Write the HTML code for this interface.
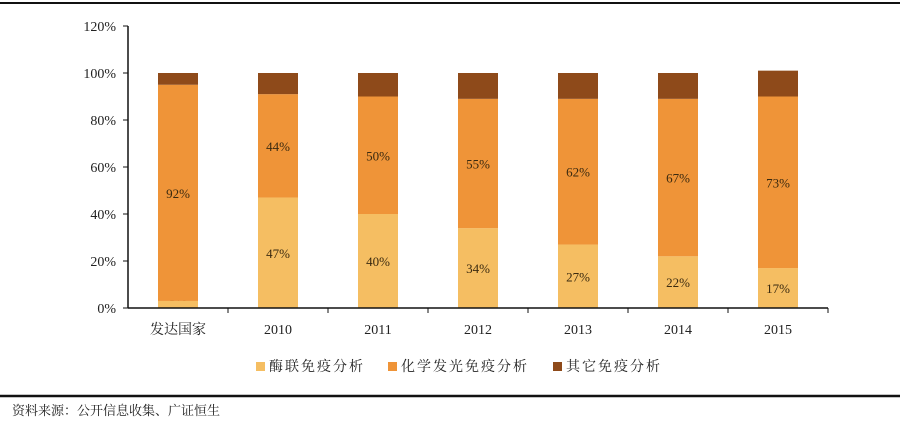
<!DOCTYPE html>
<html><head><meta charset="utf-8"><style>
body{margin:0;background:#fff;}
svg text{font-family:"Liberation Serif","Noto Serif CJK SC",serif;}
</style></head><body>
<svg width="900" height="423" viewBox="0 0 900 423">
<line x1="0" y1="3" x2="900" y2="3" stroke="#111" stroke-width="2"/>
<g id="plot"></g>
<line x1="0" y1="396" x2="900" y2="396" stroke="#111" stroke-width="2.5"/>
<text x="12" y="415" font-size="13" fill="#222">资料来源：公开信息收集、广证恒生</text>
</svg>
<script>
const categories=["发达国家","2010","2011","2012","2013","2014","2015"];
const elisa=[3,47,40,34,27,22,17];
const clia=[92,44,50,55,62,67,73];
const other=[5,9,10,11,11,11,11];
const yTicks=[0,20,40,60,80,100,120];
const seriesNames=["酶联免疫分析","化学发光免疫分析","其它免疫分析"];
const colors=["#F5BE62","#EF9438","#8E4A1A"];
const NS="http://www.w3.org/2000/svg";
const g=document.getElementById('plot');
const x0=128,x1=828,y0=308,yTop=26;
const y=v=>y0-(v/120)*(y0-yTop);
const band=(x1-x0)/categories.length;
const xc=i=>x0+band*(i+0.5);
function mk(t,a){const e=document.createElementNS(NS,t);for(const k in a)e.setAttribute(k,a[k]);g.appendChild(e);return e;}
yTicks.forEach(t=>{
 const l=mk('text',{x:x0-12,y:y(t)+5,'text-anchor':'end','font-size':'14',fill:'#222'});l.textContent=t+'%';
 
 
 const tk=mk('line',{x1:x0-5,x2:x0,y1:y(t),y2:y(t),stroke:'#111'});
 
 
});
const ya=mk('line',{x1:x0,x2:x0,y1:yTop,y2:y0,stroke:'#111','stroke-width':1.5});


const series=[elisa,clia,other];
categories.forEach((c,i)=>{
 let base=0;
 series.forEach((s,k)=>{
  const r=mk('rect',{x:xc(i)-20,width:40,y:y(base+s[i]),height:y(base)-y(base+s[i]),fill:colors[k]});
  
  
  if(k<2){
   let ly=y(base+s[i]/2)+5;
   if(i===0&&k===0) ly=y0-7;
   const t=mk('text',{x:xc(i),y:ly,'text-anchor':'middle','font-size':'13',fill:'#3a2a10'});t.textContent=s[i]+'%';
   
   
  }
  base+=s[i];
 });
 const cl=mk('text',{x:xc(i),y:334,'text-anchor':'middle','font-size':'14',fill:'#222'});cl.textContent=c;
 
 
 const tk=mk('line',{x1:x0+band*(i+1),x2:x0+band*(i+1),y1:y0,y2:y0+5,stroke:'#111'});
 
 
});
const xa=mk('line',{x1:x0,x2:x1,y1:y0,y2:y0,stroke:'#111','stroke-width':1.5});


const lx=[256,388,553];
seriesNames.forEach((n,k)=>{
 const s=mk('rect',{x:lx[k],y:362,width:9,height:9,fill:colors[k]});
 
 
 const t=mk('text',{x:lx[k]+13,y:371,'font-size':'14',fill:'#222','letter-spacing':'2'});t.textContent=n;
 
 
});
</script>
</body></html>
